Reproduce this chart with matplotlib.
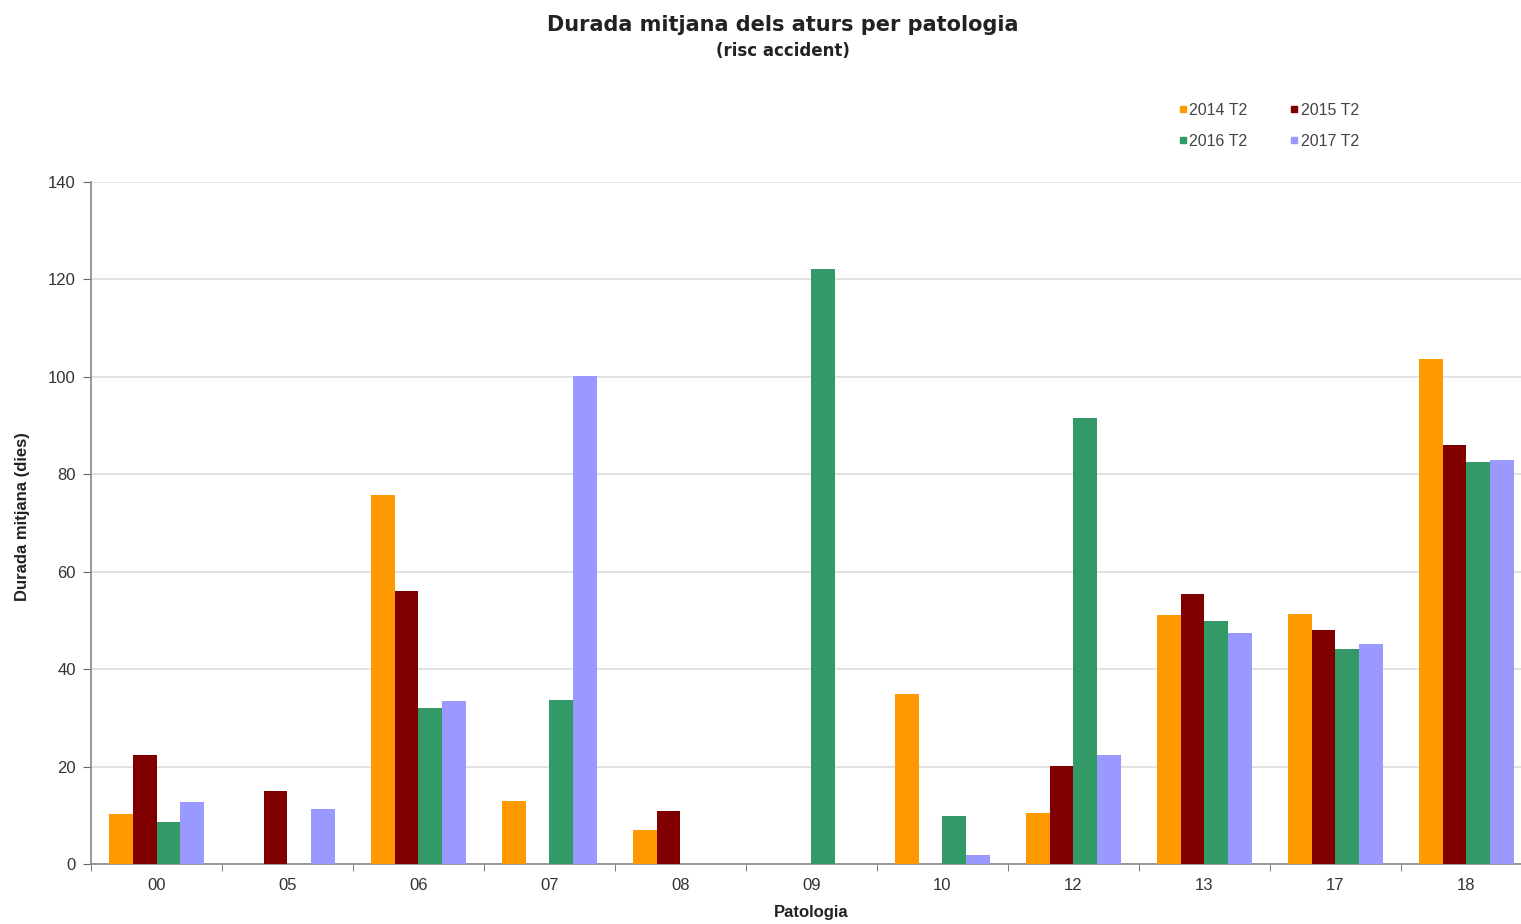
import matplotlib
matplotlib.use("Agg")
import matplotlib.pyplot as plt
import numpy as np
from matplotlib.lines import Line2D

plt.rcParams['font.family'] = ['Liberation Sans', 'DejaVu Sans']

categories = ["00", "05", "06", "07", "08", "09", "10", "12", "13", "17", "18"]
series_names = ["2014 T2", "2015 T2", "2016 T2", "2017 T2"]
v2014 = [10.3, 0, 75.8, 12.9, 7.0, 0, 34.9, 10.4, 51.2, 51.4, 103.7]
v2015 = [22.4, 15.0, 56.0, 0, 10.9, 0, 0, 20.2, 55.5, 48.0, 86.0]
v2016 = [8.6, 0, 32.0, 33.7, 0, 122.2, 9.9, 91.5, 49.8, 44.1, 82.5]
v2017 = [12.7, 11.3, 33.5, 100.2, 0, 0, 1.8, 22.4, 47.5, 45.2, 83.0]
colors = ["#FF9900", "#800000", "#339966", "#9999FF"]
yticks = [0, 20, 40, 60, 80, 100, 120, 140]

fig = plt.figure(figsize=(15.21, 9.24), dpi=100)
ax = fig.add_axes([91/1521, 1-864/924, (1532-91)/1521, (864-182)/924])

x = np.arange(len(categories))
w = 0.18
for i, (vals, c) in enumerate(zip([v2014, v2015, v2016, v2017], colors)):
    ax.bar(x + (i - 1.5) * w, vals, width=w, color=c, zorder=3, linewidth=0)

ax.set_xlim(-0.5, len(categories) - 0.5)
ax.set_ylim(0, 140)
ax.set_yticks(yticks)
ax.set_yticklabels([str(t) for t in yticks], fontsize=12, color="#333333")
ax.yaxis.grid(True, color="#dddddd", linewidth=1.2, zorder=0)
ax.set_axisbelow(True)

ax.set_xticks(x)
ax.set_xticklabels(categories, fontsize=12, color="#333333")
ax.tick_params(axis='x', length=0, pad=10)
ax.set_xticks(np.arange(len(categories) + 1) - 0.5, minor=True)
ax.tick_params(axis='x', which='minor', length=5, color="#666666", direction='out')
ax.tick_params(axis='y', length=6, color="#666666", direction='out', pad=5)

for s in ['top', 'right']:
    ax.spines[s].set_visible(False)
for s in ['left', 'bottom']:
    ax.spines[s].set_color("#888888")
    ax.spines[s].set_linewidth(1.2)

ax.set_ylabel("Durada mitjana (dies)", fontsize=12, fontweight='bold', color="#222222")
ax.yaxis.set_label_coords(-0.042, 0.51)
ax.set_xlabel("Patologia", fontsize=12, fontweight='bold', color="#222222")
ax.xaxis.set_label_coords(0.5, -0.06)

fig.text(783/1521, 1-25/924, "Durada mitjana dels aturs per patologia", ha='center', va='center',
         fontsize=15, fontweight='bold', color="#222222", family='DejaVu Sans')
fig.text(783/1521, 1-51/924, "(risc accident)", ha='center', va='center',
         fontsize=12, fontweight='bold', color="#222222", family='DejaVu Sans')

handles = [Line2D([0], [0], marker='s', linestyle='none', markersize=5, color=c) for c in colors]
order = [0, 2, 1, 3]
leg = fig.legend([handles[k] for k in order], [series_names[k] for k in order],
                 loc='center', bbox_to_anchor=(1268/1521, 1-126/924),
                 ncol=2, frameon=False, fontsize=11.5, handletextpad=0.05, columnspacing=2.6,
                 labelspacing=1.0, handlelength=0.7)
for t in leg.get_texts():
    t.set_color("#444444")

fig.savefig("out.png", dpi=100)
